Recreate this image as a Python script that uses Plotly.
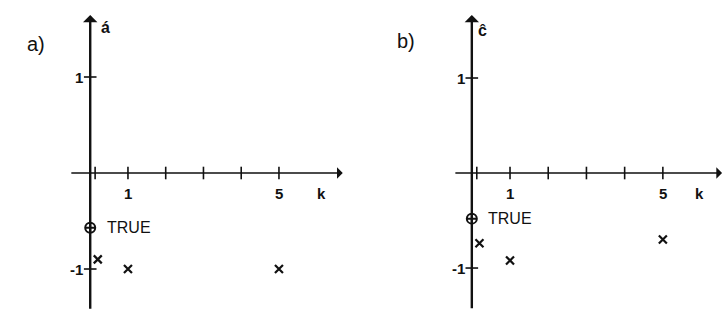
import plotly.graph_objects as go

# Estimates per iteration k for the two parameters
k_a = [0.2, 1, 5]
est_a = [-0.9, -1.0, -1.0]
true_k_a = [0]
true_a = [-0.57]

k_b = [0.2, 1, 5]
est_b = [-0.74, -0.92, -0.70]
true_k_b = [0]
true_b = [-0.48]

# Axis decorations
x_ticks = [0.13, 1, 2, 3, 4, 5]
x_tick_labels = ["1", "5"]
x_tick_label_pos = [1, 5]
y_ticks = [1, -1]
y_tick_labels = ["1", "-1"]

INK = "#111111"
FONT = "Liberation Sans"

panels = [
    dict(xa="x", ya="y", xdom=[0, 0.5],
         xr=[-2.39, 7.2], yr=[-1.552, 1.802],
         xext=[-0.54, 6.69], yext=[-1.43, 1.646],
         k=k_a, est=est_a, tk=true_k_a, tv=true_a,
         ylab="á", ylab_pos=(0, 1.52), ylab_shift=15,
         klab_x=6.14, tag="a)", tag_xy=(25, 31), true_shift=15),
    dict(xa="x2", ya="y2", xdom=[0.5, 1.0],
         xr=[-2.874, 6.60], yr=[-1.568, 1.821],
         xext=[-0.47, 6.55], yext=[-1.44, 1.663],
         k=k_b, est=est_b, tk=true_k_b, tv=true_b,
         ylab="ĉ", ylab_pos=(0, 1.505), ylab_shift=11,
         klab_x=5.95, tag="b)", tag_xy=(406, 28), true_shift=14),
]

fig = go.Figure()
annotations = []

for p in panels:
    xa, ya = p["xa"], p["ya"]
    # tick marks on the horizontal axis
    fig.add_trace(go.Scatter(
        x=x_ticks, y=[0] * len(x_ticks), xaxis=xa, yaxis=ya, mode="markers",
        marker=dict(symbol="line-ns-open", size=9, color=INK,
                    line=dict(color=INK, width=1.6)),
        hoverinfo="skip", showlegend=False))
    # tick marks on the vertical axis
    fig.add_trace(go.Scatter(
        x=[0] * len(y_ticks), y=y_ticks, xaxis=xa, yaxis=ya, mode="markers",
        marker=dict(symbol="line-ew-open", size=9, color=INK,
                    line=dict(color=INK, width=1.6)),
        hoverinfo="skip", showlegend=False))
    # estimates
    fig.add_trace(go.Scatter(
        x=p["k"], y=p["est"], xaxis=xa, yaxis=ya, mode="markers",
        marker=dict(symbol="x-thin-open", size=8, color=INK,
                    line=dict(color=INK, width=2.2)),
        showlegend=False))
    # true value
    fig.add_trace(go.Scatter(
        x=p["tk"], y=p["tv"], xaxis=xa, yaxis=ya, mode="markers",
        marker=dict(symbol="circle-cross-open", size=10, color=INK,
                    line=dict(color=INK, width=2)),
        showlegend=False))

    # axis arrows
    annotations.append(dict(
        x=p["xext"][1], y=0, ax=p["xext"][0], ay=0, xref=xa, yref=ya,
        axref=xa, ayref=ya, text="", showarrow=True, arrowhead=1,
        arrowsize=1.2, arrowwidth=1.6, arrowcolor=INK, standoff=0))
    annotations.append(dict(
        x=0, y=p["yext"][1], ax=0, ay=p["yext"][0], xref=xa, yref=ya,
        axref=xa, ayref=ya, text="", showarrow=True, arrowhead=1,
        arrowsize=1.0, arrowwidth=2.4, arrowcolor=INK, standoff=0))

    fnt = dict(family=FONT, size=15, color=INK, weight="bold")
    for lab, pos in zip(x_tick_labels, x_tick_label_pos):
        annotations.append(dict(x=pos, y=0, xref=xa, yref=ya, text=lab,
                                showarrow=False, yshift=-20, font=fnt))
    for lab, pos in zip(y_tick_labels, y_ticks):
        annotations.append(dict(x=0, y=pos, xref=xa, yref=ya, text=lab,
                                showarrow=False, xanchor="right", xshift=-5,
                                font=fnt))
    annotations.append(dict(x=p["klab_x"], y=0, xref=xa, yref=ya, text="k",
                            showarrow=False, yshift=-20, font=fnt))
    annotations.append(dict(x=p["ylab_pos"][0], y=p["ylab_pos"][1], xref=xa,
                            yref=ya, text=p["ylab"], showarrow=False,
                            xshift=p["ylab_shift"],
                            font=dict(family=FONT, size=16, color=INK, weight="bold")))
    annotations.append(dict(x=p["tk"][0], y=p["tv"][0], xref=xa, yref=ya,
                            text="TRUE", showarrow=False, xanchor="left",
                            xshift=p["true_shift"],
                            font=dict(family=FONT, size=16, color=INK)))
    annotations.append(dict(x=p["tag_xy"][0] / 724, y=1 - p["tag_xy"][1] / 322,
                            xref="paper", yref="paper", text=p["tag"],
                            showarrow=False,
                            font=dict(family=FONT, size=20, color=INK)))

axis_common = dict(visible=False, showgrid=False, zeroline=False, fixedrange=True)
fig.update_layout(
    width=724, height=322,
    margin=dict(l=0, r=0, t=0, b=0),
    paper_bgcolor="white", plot_bgcolor="white",
    xaxis=dict(domain=panels[0]["xdom"], range=panels[0]["xr"], anchor="y", **axis_common),
    yaxis=dict(domain=[0, 1], range=panels[0]["yr"], anchor="x", **axis_common),
    xaxis2=dict(domain=panels[1]["xdom"], range=panels[1]["xr"], anchor="y2", **axis_common),
    yaxis2=dict(domain=[0, 1], range=panels[1]["yr"], anchor="x2", **axis_common),
    annotations=annotations,
)

fig.write_html("out.html")
